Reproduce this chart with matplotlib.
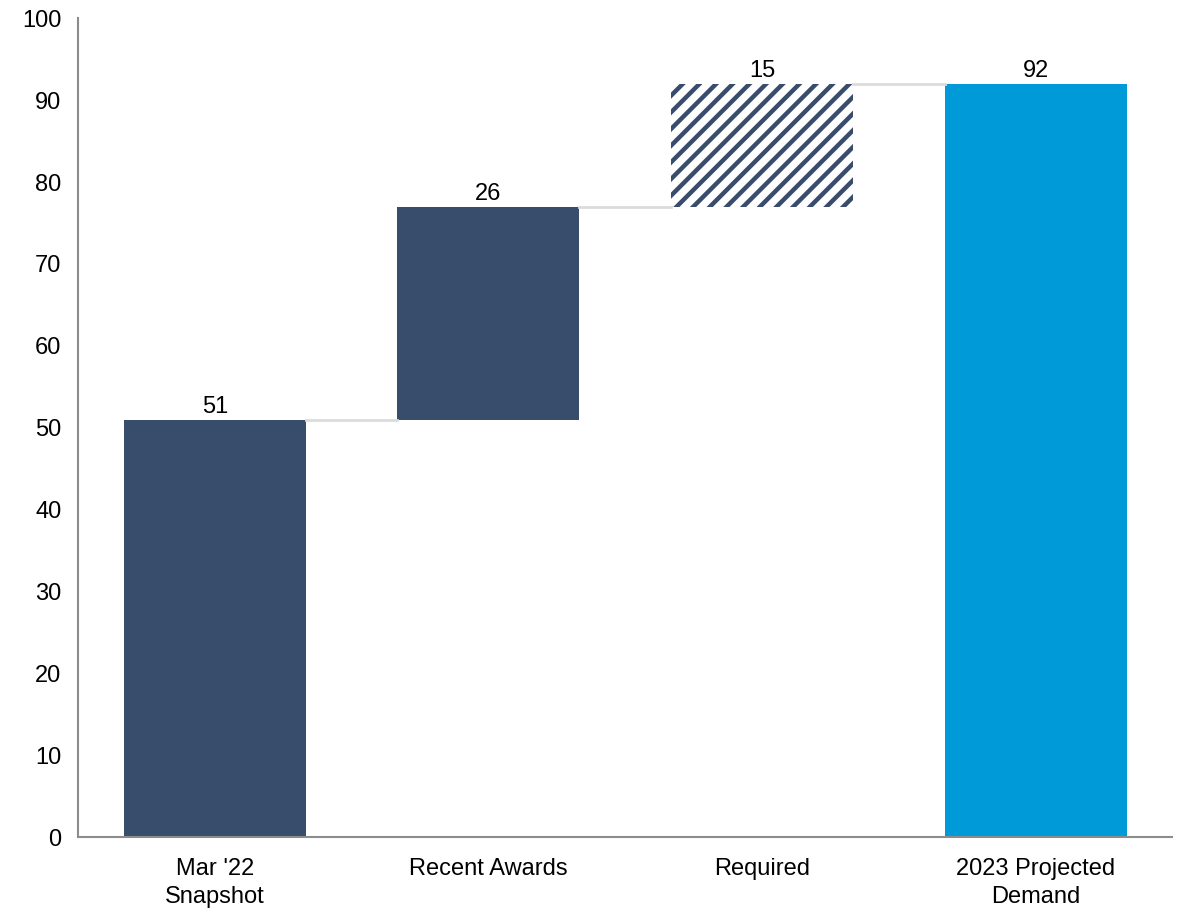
import matplotlib
matplotlib.use('Agg')
import matplotlib.pyplot as plt
import numpy as np

plt.rcParams['font.family'] = ['Liberation Sans', 'DejaVu Sans']
plt.rcParams['hatch.linewidth'] = 3.2

categories = ["Mar '22\nSnapshot", 'Recent Awards', 'Required', '2023 Projected\nDemand']
steps = [51, 26, 15]
total = 92

navy = '#384c6c'
blue = '#009ad8'
gray = '#dcdcdc'

bottoms = [0, steps[0], steps[0] + steps[1], 0]
heights = [steps[0], steps[1], steps[2], total]
tops = [b + h for b, h in zip(bottoms, heights)]
x = np.arange(len(categories))
width = 0.665

fig, ax = plt.subplots(figsize=(11.83, 9.10), dpi=100)
fig.subplots_adjust(left=0.066, right=0.991, top=0.98, bottom=0.08)

ax.bar(x[:2], heights[:2], width, bottom=bottoms[:2], color=navy, linewidth=0)
ax.bar(x[2], heights[2], width, bottom=bottoms[2], color='white',
       edgecolor=navy, hatch='//', linewidth=0)
ax.bar(x[3], heights[3], width, bottom=bottoms[3], color=blue, linewidth=0)

# connectors between neighbouring bars
for i in range(len(x) - 1):
    ax.plot([x[i] + width / 2, x[i + 1] - width / 2], [tops[i], tops[i]],
            color=gray, linewidth=2, zorder=1)

for xi, top, h in zip(x, tops, heights):
    ax.text(xi, top + 0.2, str(h), ha='center', va='bottom', fontsize=17)

ax.set_xlim(-0.5, 3.5)
ax.set_ylim(0, 100)
ax.set_yticks(range(0, 101, 10))
ax.set_xticks(x)
ax.set_xticklabels(categories, linespacing=1.35)
ax.tick_params(axis='both', length=0, labelsize=17)
ax.tick_params(axis='y', pad=12)
ax.tick_params(axis='x', pad=15)

for side in ['top', 'right']:
    ax.spines[side].set_visible(False)
for side in ['left', 'bottom']:
    ax.spines[side].set_color('#8c8c8c')
    ax.spines[side].set_linewidth(1.5)

fig.savefig('out.png', dpi=100)
